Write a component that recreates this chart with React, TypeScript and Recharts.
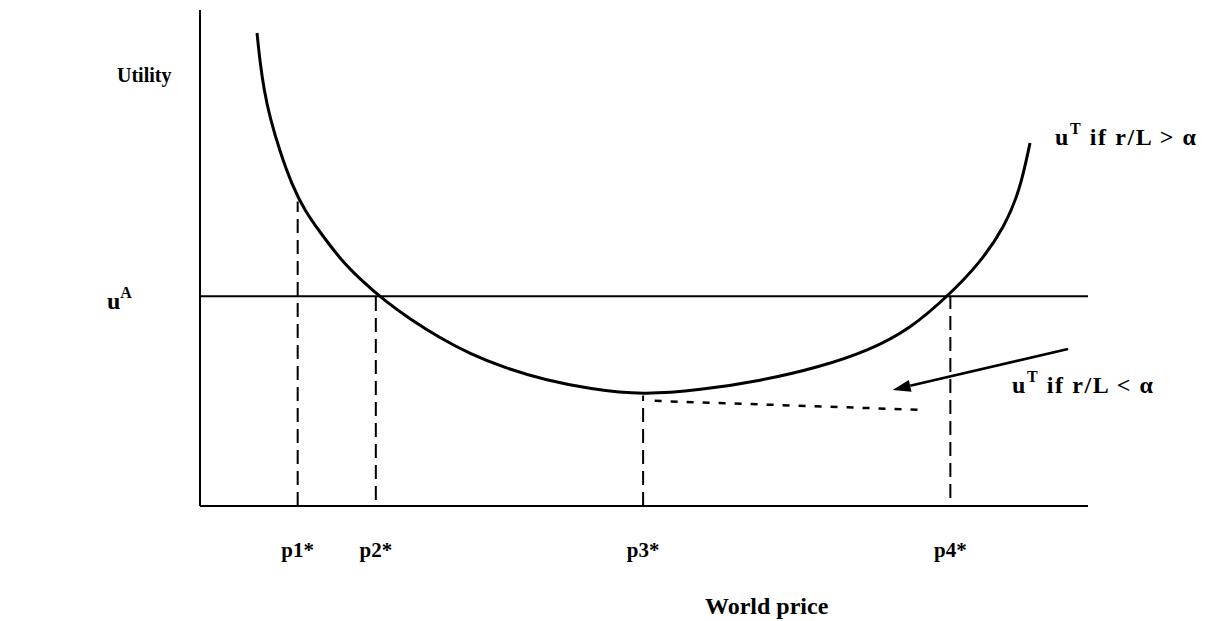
import React from 'react';
import { LineChart, Line, XAxis, YAxis, ReferenceLine, ReferenceDot, Label } from 'recharts';

// World price (x) and utility (y), in arbitrary schematic units
const curvePrice = [
  6.42, 6.76, 7.21, 7.88, 9.01, 10.36, 11.82, 13.51, 15.77, 18.24, 20.83, 23.65, 27.03, 30.41, 34.35, 38.85, 43.92, 49.89,
  56.31, 63.06, 69.82, 75.45, 79.95, 84.23, 87.84, 90.65, 92.34, 93.47,
];
const curveUtility = [
  95.36, 89.52, 83.87, 78.23, 71.37, 64.72, 59.48, 55.24, 49.8, 45.36, 41.33, 37.7, 33.87, 30.65, 27.82, 25.4, 23.59, 22.38,
  23.39, 25.2, 28.02, 31.45, 35.69, 42.34, 48.99, 56.45, 63.71, 73.19,
];
const criticalPrices = [11.0, 19.8, 49.9, 84.5];
const criticalLabels = ['p1*', 'p2*', 'p3*', 'p4*'];
const dropTops = [61.4, 42.3, 22.3, 42.3];
const dropBottoms = [0, 1.2, 0, 1.6];
const uA = 42.3;
const lowBranchPrice = [51.2, 80.9];
const lowBranchUtility = [21.2, 19.4];
const arrowFrom = { x: 97.75, y: 31.65 };
const arrowTo = { x: 78.0, y: 23.4 };

const curveData = curvePrice.map((x, i) => ({ x, y: curveUtility[i] }));

const FONT = '"Liberation Serif", "Times New Roman", serif';
const textStyle = { fontFamily: FONT, fontSize: 21, fontWeight: 700, fill: '#000' } as const;

const XTick = (props: any) => {
  const { x, y, payload } = props;
  const idx = criticalPrices.indexOf(payload.value);
  return (
    <text x={x} y={y + 51} textAnchor="middle" {...textStyle}>
      {criticalLabels[idx]}
    </text>
  );
};

const YTick = (props: any) => {
  const { x, y } = props;
  return (
    <text x={x - 93} y={y + 13} textAnchor="start" {...textStyle} fontSize={24}>
      <tspan>u</tspan>
      <tspan dy={-11} fontSize={16}>A</tspan>
    </text>
  );
};

const UtilityLabel = (props: any) => {
  const vb = props.viewBox;
  return (
    <text x={vb.x + 17} y={vb.y + 72} {...textStyle} fontSize={20}>
      Utility
    </text>
  );
};

const PriceLabel = (props: any) => {
  const vb = props.viewBox;
  return (
    <text x={vb.x + 505} y={vb.y + 108} {...textStyle} fontSize={24}>
      World price
    </text>
  );
};

const makeCurveLabel = (sign: string, dx: number, dy: number) => (props: any) => {
  const vb = props.viewBox;
  return (
    <text x={vb.x + dx} y={vb.y + dy} {...textStyle} fontSize={24} letterSpacing={1.6}>
      <tspan>u</tspan>
      <tspan dy={-11} fontSize={16}>T</tspan>
      <tspan dy={11}>{` if r/L ${sign} α`}</tspan>
    </text>
  );
};

const ArrowShape = (props: any) => {
  const { x1, y1, x2, y2 } = props;
  const ang = Math.atan2(y2 - y1, x2 - x1);
  const len = 18;
  const half = 6;
  const bx = x2 - len * Math.cos(ang);
  const by = y2 - len * Math.sin(ang);
  const px = -Math.sin(ang) * half;
  const py = Math.cos(ang) * half;
  return (
    <g>
      <line x1={x1} y1={y1} x2={bx} y2={by} stroke="#000" strokeWidth={2.6} />
      <polygon points={`${x2},${y2} ${bx + px},${by + py} ${bx - px},${by - py}`} fill="#000" />
    </g>
  );
};

export default function App() {
  return (
    <div style={{ position: 'absolute', left: 0, top: 0, width: 1215, height: 621, background: '#fff' }}>
      <LineChart
        width={1215}
        height={621}
        data={curveData}
        margin={{ top: 10, right: 127, bottom: 75, left: 100 }}
      >
        <XAxis
          type="number"
          dataKey="x"
          domain={[0, 100]}
          ticks={criticalPrices}
          tick={<XTick />}
          tickLine={false}
          tickSize={0}
          tickMargin={0}
          height={40}
          axisLine={{ stroke: '#000', strokeWidth: 2 }}
          allowDataOverflow
        >
          <Label content={<PriceLabel />} />
        </XAxis>
        <YAxis
          type="number"
          domain={[0, 100]}
          ticks={[uA]}
          tick={<YTick />}
          tickLine={false}
          tickSize={0}
          tickMargin={0}
          width={100}
          axisLine={{ stroke: '#000', strokeWidth: 2 }}
          allowDataOverflow
        >
          <Label content={<UtilityLabel />} />
        </YAxis>
        <ReferenceLine y={uA} stroke="#000" strokeWidth={2} />
        {criticalPrices.map((p, i) => (
          <ReferenceLine
            key={criticalLabels[i]}
            segment={[{ x: p, y: dropBottoms[i] }, { x: p, y: dropTops[i] }]}
            stroke="#000"
            strokeWidth={2}
            strokeDasharray="14 7"
            ifOverflow="visible"
          />
        ))}
        <ReferenceLine
          segment={[
            { x: lowBranchPrice[0], y: lowBranchUtility[0] },
            { x: lowBranchPrice[1], y: lowBranchUtility[1] },
          ]}
          stroke="#000"
          strokeWidth={2.5}
          strokeDasharray="7 9"
          ifOverflow="visible"
        />
        <ReferenceLine
          segment={[arrowFrom, arrowTo]}
          shape={<ArrowShape />}
          ifOverflow="visible"
        />
        <Line
          type="basis"
          dataKey="y"
          stroke="#000"
          strokeWidth={3}
          dot={false}
          activeDot={false}
          isAnimationActive={false}
        />
        <ReferenceDot
          x={curvePrice[curvePrice.length - 1]}
          y={curveUtility[curveUtility.length - 1]}
          r={0}
          fill="none"
          stroke="none"
          ifOverflow="visible"
          label={{ content: makeCurveLabel('>', 25, 2) } as any}
        />
        <ReferenceDot
          x={arrowFrom.x}
          y={arrowFrom.y}
          r={0}
          fill="none"
          stroke="none"
          ifOverflow="visible"
          label={{ content: makeCurveLabel('<', -56, 44) } as any}
        />
      </LineChart>
    </div>
  );
}
